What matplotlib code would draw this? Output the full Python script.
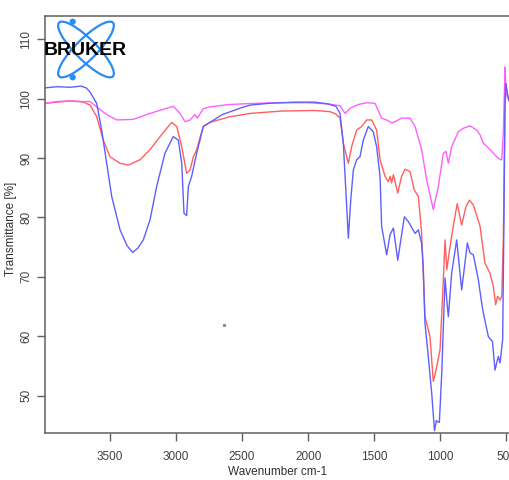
import matplotlib
matplotlib.use("Agg")
import matplotlib.pyplot as plt
from matplotlib import font_manager
from matplotlib.patches import Ellipse, Circle

# ---------------- data ----------------
wn_blue = [3992, 3900, 3800, 3720, 3680, 3651, 3601, 3563, 3525, 3487, 3424, 3370,
           3328, 3290, 3248, 3197, 3147, 3084, 3021, 2983, 2957, 2940, 2920, 2907,
           2882, 2844, 2794, 2743, 2650, 2500, 2440, 2300, 2100, 1950, 1850, 1790,
           1759, 1734, 1714, 1696, 1678, 1658, 1633, 1608, 1583, 1545, 1507, 1482,
           1456, 1444, 1406, 1380, 1355, 1322, 1272, 1242, 1222, 1191, 1166, 1141,
           1129, 1116, 1091, 1065, 1044, 1030, 1022, 1007, 989, 964, 951, 939,
           914, 876, 838, 795, 775, 750, 712, 687, 674, 636, 605, 586, 561, 548,
           528, 518, 510, 505, 498, 490, 480, 472]
t_blue = [101.8, 102.0, 101.9, 102.1, 101.8, 101.1, 99.2, 94.7, 89.1, 83.5, 77.9, 75.2,
          74.1, 74.8, 76.2, 79.6, 85.2, 90.8, 93.6, 93.0, 89.1, 80.7, 80.3, 85.2,
          86.9, 90.8, 95.3, 96.0, 97.3, 98.5, 98.9, 99.2, 99.4, 99.4, 99.1, 98.7,
          97.5, 92.5, 84.1, 76.5, 82.9, 88.0, 89.7, 90.2, 93.0, 95.3, 94.4, 91.9,
          86.9, 78.5, 73.7, 77.1, 78.2, 72.8, 80.1, 79.3, 78.5, 77.3, 77.9, 75.6,
          71.7, 62.2, 56.6, 50.4, 44.1, 45.8, 45.6, 45.5, 53.8, 69.8, 66.1, 63.3,
          70.6, 76.2, 67.8, 75.7, 74.0, 73.7, 69.5, 65.6, 63.9, 59.9, 59.1, 54.3,
          56.6, 55.5, 59.4, 80.0, 100.0, 102.5, 101.8, 100.6, 99.8, 99.5]

wn_red = [3992, 3900, 3800, 3700, 3651, 3601, 3551, 3500, 3424, 3361, 3273, 3197,
          3121, 3033, 2995, 2957, 2920, 2894, 2869, 2844, 2794, 2743, 2600, 2440,
          2200, 1950, 1835, 1790, 1759, 1734, 1696, 1671, 1633, 1595, 1557, 1519,
          1482, 1456, 1418, 1393, 1380, 1368, 1355, 1322, 1293, 1267, 1229, 1197,
          1166, 1141, 1116, 1078, 1053, 1040, 1027, 1002, 977, 964, 951, 926,
          902, 872, 838, 806, 780, 750, 699, 662, 624, 599, 581, 566, 548, 535,
          523, 512, 505, 498, 490, 480, 472]
t_red = [99.2, 99.4, 99.6, 99.4, 98.9, 97.0, 93.0, 90.2, 89.1, 88.8, 89.7, 91.4,
         93.6, 96.0, 95.3, 91.9, 87.4, 88.0, 90.2, 91.4, 95.3, 96.0, 96.9, 97.5,
         97.9, 98.0, 97.8, 97.4, 96.7, 92.5, 89.1, 91.9, 94.7, 95.3, 96.4, 96.4,
         94.7, 89.7, 86.9, 86.0, 86.9, 85.8, 87.2, 84.1, 86.9, 88.1, 87.7, 84.6,
         83.5, 77.3, 63.3, 59.9, 52.4, 53.5, 54.9, 57.7, 69.5, 76.2, 71.2, 75.1,
         78.5, 82.3, 78.7, 81.8, 82.9, 82.1, 78.5, 72.3, 70.6, 68.4, 65.3, 66.7,
         66.1, 66.7, 76.2, 97.0, 101.5, 101.0, 100.2, 99.6, 99.2]

wn_mag = [3992, 3900, 3800, 3700, 3651, 3601, 3525, 3449, 3324, 3197, 3021, 2970,
          2932, 2894, 2857, 2839, 2794, 2743, 2600, 2400, 2200, 2000, 1850, 1760,
          1721, 1680, 1620, 1557, 1494, 1444, 1406, 1368, 1343, 1293, 1229, 1191,
          1141, 1103, 1053, 1015, 977, 957, 939, 914, 864, 826, 775, 725, 699,
          674, 624, 573, 543, 535, 523, 510, 505, 498, 490, 480, 472]
t_mag = [99.2, 99.5, 99.6, 99.5, 99.5, 98.6, 97.3, 96.4, 96.5, 97.5, 98.7, 97.5,
         96.1, 96.4, 97.3, 96.7, 98.3, 98.6, 99.0, 99.2, 99.3, 99.3, 99.1, 98.8,
         97.5, 98.4, 99.0, 99.3, 99.2, 96.7, 96.4, 95.9, 96.1, 96.7, 96.7, 95.3,
         91.4, 86.3, 81.3, 85.2, 90.8, 91.1, 89.1, 91.9, 94.4, 95.0, 95.4, 94.7,
         93.9, 92.5, 91.4, 90.2, 89.7, 89.7, 94.2, 105.3, 102.6, 101.0, 100.2, 99.8, 99.5]

artifact_wn = [2637]
artifact_t = [61.9]

x_ticks = [3500, 3000, 2500, 2000, 1500, 1000, 500]
y_ticks = [50, 60, 70, 80, 90, 100, 110]

# ---------------- fonts ----------------
installed = {f.name for f in font_manager.fontManager.ttflist}
if "Liberation Sans Narrow" in installed:
    narrow, nsize = "Liberation Sans Narrow", 9.5
elif "DejaVu Sans Condensed" in installed:
    narrow, nsize = "DejaVu Sans Condensed", 8.5
else:
    narrow, nsize = "Liberation Sans", 8.5

# ---------------- figure ----------------
W, H = 510, 480
fig = plt.figure(figsize=(W / 100, H / 100), dpi=100)
fig.patch.set_facecolor("white")

L, R, T, B = 45, 510, 16, 433
ax = fig.add_axes([L / W, 1 - B / H, (R - L) / W, (B - T) / H])

ax.plot(wn_red, t_red, color="#ff5f5f", lw=1.0)
ax.plot(wn_mag, t_mag, color="#ff5fff", lw=1.0)
ax.plot(wn_blue, t_blue, color="#5f5fff", lw=1.0)
ax.plot(artifact_wn, artifact_t, ls="none", marker="s", ms=1.2, color="#888888")

ax.set_xlim(3992, 472.4)
ax.set_ylim(43.7, 113.9)

ax.set_xticks(x_ticks)
ax.set_yticks(y_ticks)
ax.set_xticklabels([str(v) for v in x_ticks], family=[narrow, "DejaVu Sans"],
                   fontsize=nsize)
ax.set_yticklabels([str(v) for v in y_ticks], rotation=90, va="center",
                   family=["Liberation Sans", "DejaVu Sans"], fontsize=8.5)

edge = "#606060"
for side in ["top", "left", "bottom"]:
    ax.spines[side].set_color(edge)
    ax.spines[side].set_linewidth(1.1)
ax.spines["right"].set_visible(False)
ax.tick_params(axis="both", direction="out", length=6, width=1.0, color=edge,
               labelcolor="#404040")
ax.tick_params(axis="x", pad=7)
ax.tick_params(axis="y", pad=3)

ax.set_xlabel("Wavenumber cm-1", family=[narrow, "DejaVu Sans"],
              fontsize=nsize, color="#303030")
ax.set_ylabel("Transmittance [%]", family=["Liberation Sans", "DejaVu Sans"],
              fontsize=8.5, color="#303030")
ax.xaxis.set_label_coords((278 - L) / (R - L), (B - 466) / (B - T))
ax.yaxis.set_label_coords((17 - L) / (R - L), (B - 229) / (B - T))

# ---------------- logo overlay (pixel coordinates) ----------------
ov = fig.add_axes([0, 0, 1, 1], zorder=5)
ov.set_xlim(0, W)
ov.set_ylim(H, 0)
ov.axis("off")
ov.patch.set_alpha(0)
logo_blue = "#2a8cf0"
for ang in (45, -45):
    ov.add_patch(Ellipse((86, 49.5), 76, 21, angle=ang, fill=False,
                         edgecolor=logo_blue, lw=1.6))
for cy in (21.7, 77.3):
    ov.add_patch(Circle((72.7, cy), 2.4, color=logo_blue))
ov.text(85.5, 50.5, "BRUKER", ha="center", va="center", fontsize=14,
        fontweight="bold", family=["Liberation Sans", "DejaVu Sans"], color="black")

fig.savefig("out.png", dpi=100)
